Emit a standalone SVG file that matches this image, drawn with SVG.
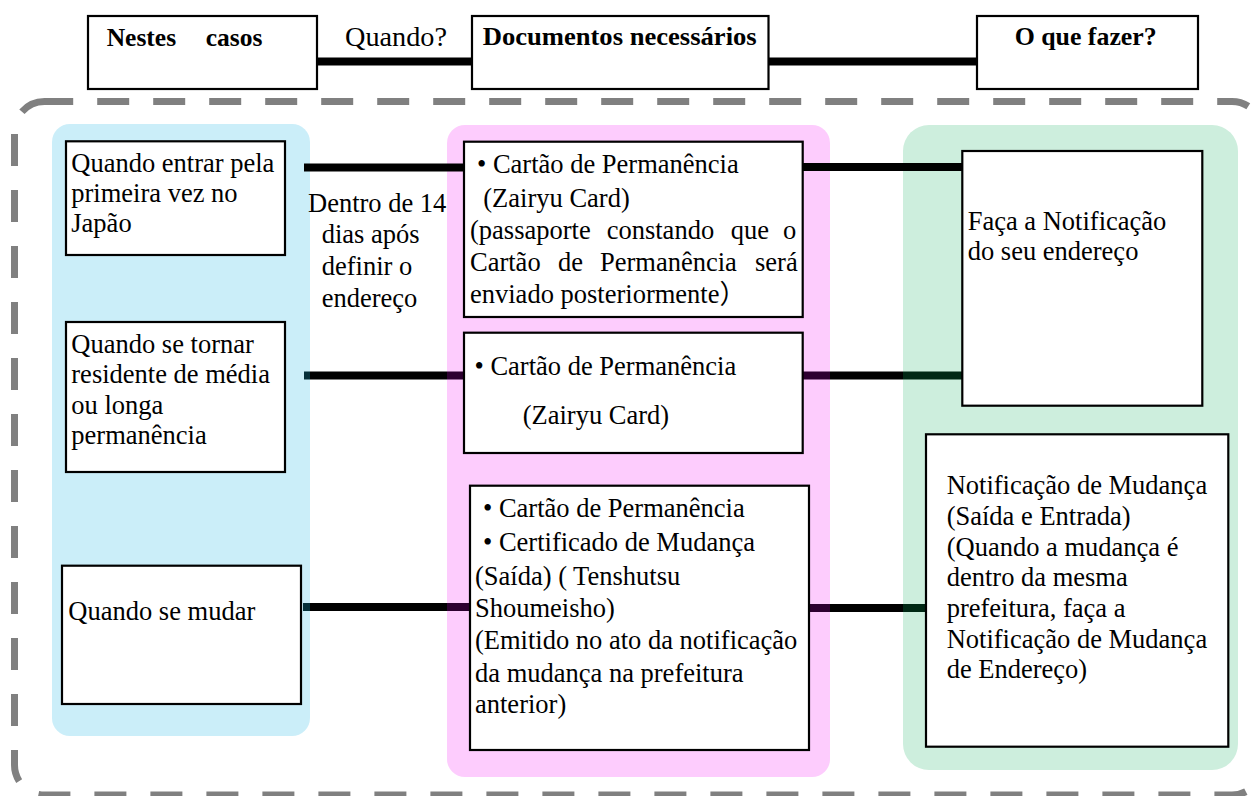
<svg xmlns="http://www.w3.org/2000/svg" width="1251" height="796" viewBox="0 0 1251 796" font-family="'Liberation Serif', 'Times New Roman', serif">
<style>
text{font-family:'Liberation Serif','Times New Roman',serif;font-size:26.5px;fill:#000}
.hd{font-weight:bold;font-size:25.5px}
.cjk{font-family:'Noto Sans CJK JP',sans-serif}
.box{fill:#fff;stroke:#000;stroke-width:2.2}
.ln{stroke:#000;stroke-width:8;fill:none}
.tb{stroke:#06303a}
.tp{stroke:#2d0030}
.tg{stroke:#002814}
</style>
<rect x="0" y="0" width="1251" height="796" fill="#fff"/>
<g id="frame">
<path d="M44.5 101.5H1232A30 30 0 0 1 1262 131.5V765A30 30 0 0 1 1232 795H44.5A30 30 0 0 1 14.5 765V131.5A30 30 0 0 1 44.5 101.5Z" fill="none" stroke="#808080" stroke-width="7" stroke-dasharray="32 24" stroke-dashoffset="3.3"/>
</g>
<g id="panels">
<rect x="52" y="124" width="258" height="612" rx="18" fill="#cbeef9"/>
<rect x="447" y="125" width="383" height="652" rx="18" fill="#fdccfd"/>
<rect x="903" y="125" width="335" height="645" rx="26" fill="#cdeedd"/>
</g>
<g id="connectors">
<path class="ln" d="M317 61.5H472M769 61.5H977"/>
<path class="ln" d="M304 167.5H464M803 167H962"/>
<path class="ln" d="M310 375.5H447M830 375.5H903M310 607H447M830 608H903"/>
<path class="ln tb" d="M304 375.5H310M303 607H310"/>
<path class="ln tp" d="M447 375.5H464M803 375.5H830M447 607H470M809 608H830"/>
<path class="ln tg" d="M903 375.5H962M903 608H926"/>
</g>
<g id="hdr-casos">
<rect class="box" x="88" y="16" width="229" height="73"/>
<text class="hd" x="106.7" y="45.5">Nestes</text>
<text class="hd" x="205.7" y="45.5">casos</text>
</g>
<g id="hdr-quando">
<text x="345" y="45.5" font-size="27" textLength="102" lengthAdjust="spacingAndGlyphs">Quando?</text>
</g>
<g id="hdr-docs">
<rect class="box" x="472" y="16" width="296.5" height="73"/>
<text class="hd" x="482.7" y="45" textLength="274" lengthAdjust="spacingAndGlyphs">Documentos necessários</text>
</g>
<g id="hdr-fazer">
<rect class="box" x="977" y="16" width="221" height="73"/>
<text class="hd" x="1014.7" y="45" textLength="142" lengthAdjust="spacingAndGlyphs">O que fazer?</text>
</g>
<g id="case-1">
<rect class="box" x="66" y="141.3" width="219" height="113.7"/>
<text x="71.3" y="171.7">Quando entrar pela</text>
<text x="71.3" y="201.7">primeira vez no</text>
<text x="71.3" y="231.7">Japão</text>
</g>
<g id="case-2">
<rect class="box" x="66" y="322" width="219" height="150"/>
<text x="71.3" y="352.7">Quando se tornar</text>
<text x="71.3" y="383.3">residente de média</text>
<text x="71.3" y="413.5">ou longa</text>
<text x="71.3" y="444">permanência</text>
</g>
<g id="case-3">
<rect class="box" x="62" y="565.7" width="239" height="138.3"/>
<text x="68.3" y="620">Quando se mudar</text>
</g>
<g id="prazo">
<text x="308" y="211.7">Dentro de 14</text>
<text x="321.7" y="243.3">dias após</text>
<text x="321.7" y="275">definir o</text>
<text x="321.7" y="306.7">endereço</text>
</g>
<g id="doc-1">
<rect class="box" x="464" y="141.7" width="338.7" height="175.3"/>
<text x="477" y="173">• Cartão de Permanência</text>
<text x="483.3" y="207">(Zairyu Card)</text>
<text y="238.5"><tspan x="470">(passaporte</tspan><tspan x="606.7">constando</tspan><tspan x="730.7">que</tspan><tspan x="783">o</tspan></text>
<text y="270.5"><tspan x="470">Cartão</tspan><tspan x="558">de</tspan><tspan x="600">Permanência</tspan><tspan x="755">será</tspan></text>
<text x="470" y="302.7">enviado posteriormente<tspan class="cjk">）</tspan></text>
</g>
<g id="doc-2">
<rect class="box" x="464" y="332.7" width="338.7" height="120.3"/>
<text x="474.5" y="375">• Cartão de Permanência</text>
<text x="522.7" y="424">(Zairyu Card)</text>
</g>
<g id="doc-3">
<rect class="box" x="470" y="485.7" width="339" height="264.3"/>
<text x="483" y="517.3">• Cartão de Permanência</text>
<text x="483" y="551">• Certificado de Mudança</text>
<text x="475" y="585">(Saída) ( Tenshutsu</text>
<text x="475" y="616.7">Shoumeisho)</text>
<text x="475" y="649.3">(Emitido no ato da notificação</text>
<text x="475" y="681.7">da mudança na prefeitura</text>
<text x="475" y="713.3">anterior)</text>
</g>
<g id="acao-1">
<rect class="box" x="962.3" y="151" width="240" height="254.7"/>
<text x="967.7" y="230">Faça a Notificação</text>
<text x="967.7" y="260">do seu endereço</text>
</g>
<g id="acao-2">
<rect class="box" x="926" y="434.3" width="302.3" height="312.4"/>
<text x="946.7" y="494">Notificação de Mudança</text>
<text x="946.7" y="525">(Saída e Entrada)</text>
<text x="946.7" y="555.7">(Quando a mudança é</text>
<text x="946.7" y="586.3">dentro da mesma</text>
<text x="946.7" y="617">prefeitura, faça a</text>
<text x="946.7" y="647.7">Notificação de Mudança</text>
<text x="946.7" y="678.3">de Endereço)</text>
</g>
</svg>
